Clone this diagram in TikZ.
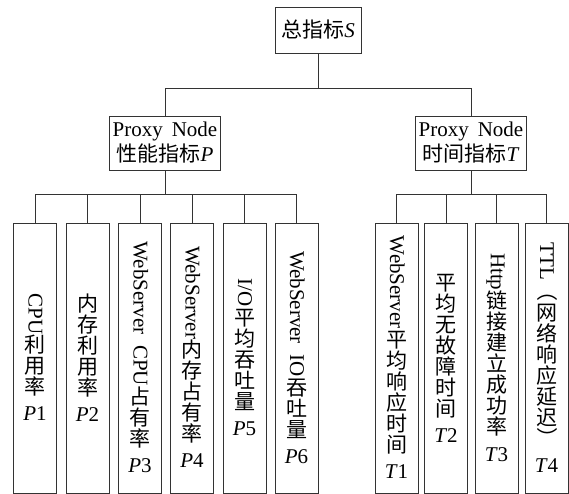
\documentclass[tikz,border=0pt]{standalone}
\usepackage{fontspec}
\usepackage{graphicx}
\setmainfont{Liberation Serif}
\newfontfamily\cjk{Noto Sans CJK SC}
\newcommand\Rt[1]{\rotatebox{-90}{\rule[-0.15em]{0pt}{0.9em}#1}}
\newcommand\Cj[1]{{\cjk\rule[-0.12em]{0pt}{1em}#1}}
\newcommand\Lb[1]{\rule[-0.12em]{0pt}{1.25em}#1}
\newcommand\stk[1]{\vbox{\offinterlineskip\halign{\hfil##\hfil\cr#1\crcr}}}
\begin{document}
\begin{tikzpicture}[x=1pt,y=-1pt,
  ln/.style={draw=black!80, line width=0.9pt},
  box/.style={draw=black!80, line width=0.9pt, inner sep=0pt, font=\fontsize{21}{25}\selectfont},
  leafbox/.style={box, minimum width=43pt, minimum height=270pt, anchor=north}]
\useasboundingbox (0,0) rectangle (569,494);
% top
\node[box, minimum width=86pt, minimum height=46pt] (S) at (318,30) {{\cjk 总指标}\textit{S}};
\node[box, minimum width=111pt, minimum height=54pt, align=center] (P) at (165,143)
  {Proxy\hspace{9pt}Node\\{\cjk 性能指标}\textit{P}};
\node[box, minimum width=111pt, minimum height=54pt, align=center] (T) at (471,143)
  {Proxy\hspace{9pt}Node\\{\cjk 时间指标}\textit{T}};
% P leaves
\node[leafbox] (p1) at (35,223) {\stk{\Rt{CPU}\cr\Cj{利}\cr\Cj{用}\cr\Cj{率}\cr\Lb{\textit{P}1}}};
\node[leafbox] (p2) at (87.5,223) {\stk{\Cj{内}\cr\Cj{存}\cr\Cj{利}\cr\Cj{用}\cr\Cj{率}\cr\Lb{\textit{P}2}}};
\node[leafbox] (p3) at (140,223) {\stk{\Rt{WebServer\hspace{0.5em}CPU}\cr\Cj{占}\cr\Cj{有}\cr\Cj{率}\cr\Lb{\textit{P}3}}};
\node[leafbox] (p4) at (192,223) {\stk{\Rt{WebServer}\cr\Cj{内}\cr\Cj{存}\cr\Cj{占}\cr\Cj{有}\cr\Cj{率}\cr\Lb{\textit{P}4}}};
\node[leafbox] (p5) at (244.5,223) {\stk{\Rt{I/O}\cr\Cj{平}\cr\Cj{均}\cr\Cj{吞}\cr\Cj{吐}\cr\Cj{量}\cr\Lb{\textit{P}5}}};
\node[leafbox] (p6) at (296.5,223) {\stk{\Rt{WebServer\hspace{0.5em}IO}\cr\Cj{吞}\cr\Cj{吐}\cr\Cj{量}\cr\Lb{\textit{P}6}}};
% T leaves
\node[leafbox] (t1) at (396.5,223) {\stk{\Rt{WebServer}\cr\Cj{平}\cr\Cj{均}\cr\Cj{响}\cr\Cj{应}\cr\Cj{时}\cr\Cj{间}\cr\Lb{\textit{T}1}}};
\node[leafbox] (t2) at (446,223) {\stk{\Cj{平}\cr\Cj{均}\cr\Cj{无}\cr\Cj{故}\cr\Cj{障}\cr\Cj{时}\cr\Cj{间}\cr\Lb{\textit{T}2}}};
\node[leafbox] (t3) at (496.5,223) {\stk{\Rt{Http}\cr\Cj{链}\cr\Cj{接}\cr\Cj{建}\cr\Cj{立}\cr\Cj{成}\cr\Cj{功}\cr\Cj{率}\cr\Lb{\textit{T}3}}};
\node[leafbox] (t4) at (546.5,223) {\stk{\Rt{TTL}\cr\Rt{\cjk （}\cr\Cj{网}\cr\Cj{络}\cr\Cj{响}\cr\Cj{应}\cr\Cj{延}\cr\Cj{迟}\cr\Rt{\cjk ）}\cr\Lb{\textit{T}4}}};
% connectors
\coordinate (b1) at (0,88);
\coordinate (b2) at (0,194);
\draw[ln] (S.south) -- (S.south|-b1) -| (P.north);
\draw[ln] (S.south|-b1) -| (T.north);
\foreach \n in {p1,p2,p3,p4,p5,p6} \draw[ln] (P.south) -- (P.south|-b2) -| (\n.north);
\foreach \n in {t1,t2,t3,t4} \draw[ln] (T.south) -- (T.south|-b2) -| (\n.north);
\end{tikzpicture}
\end{document}
